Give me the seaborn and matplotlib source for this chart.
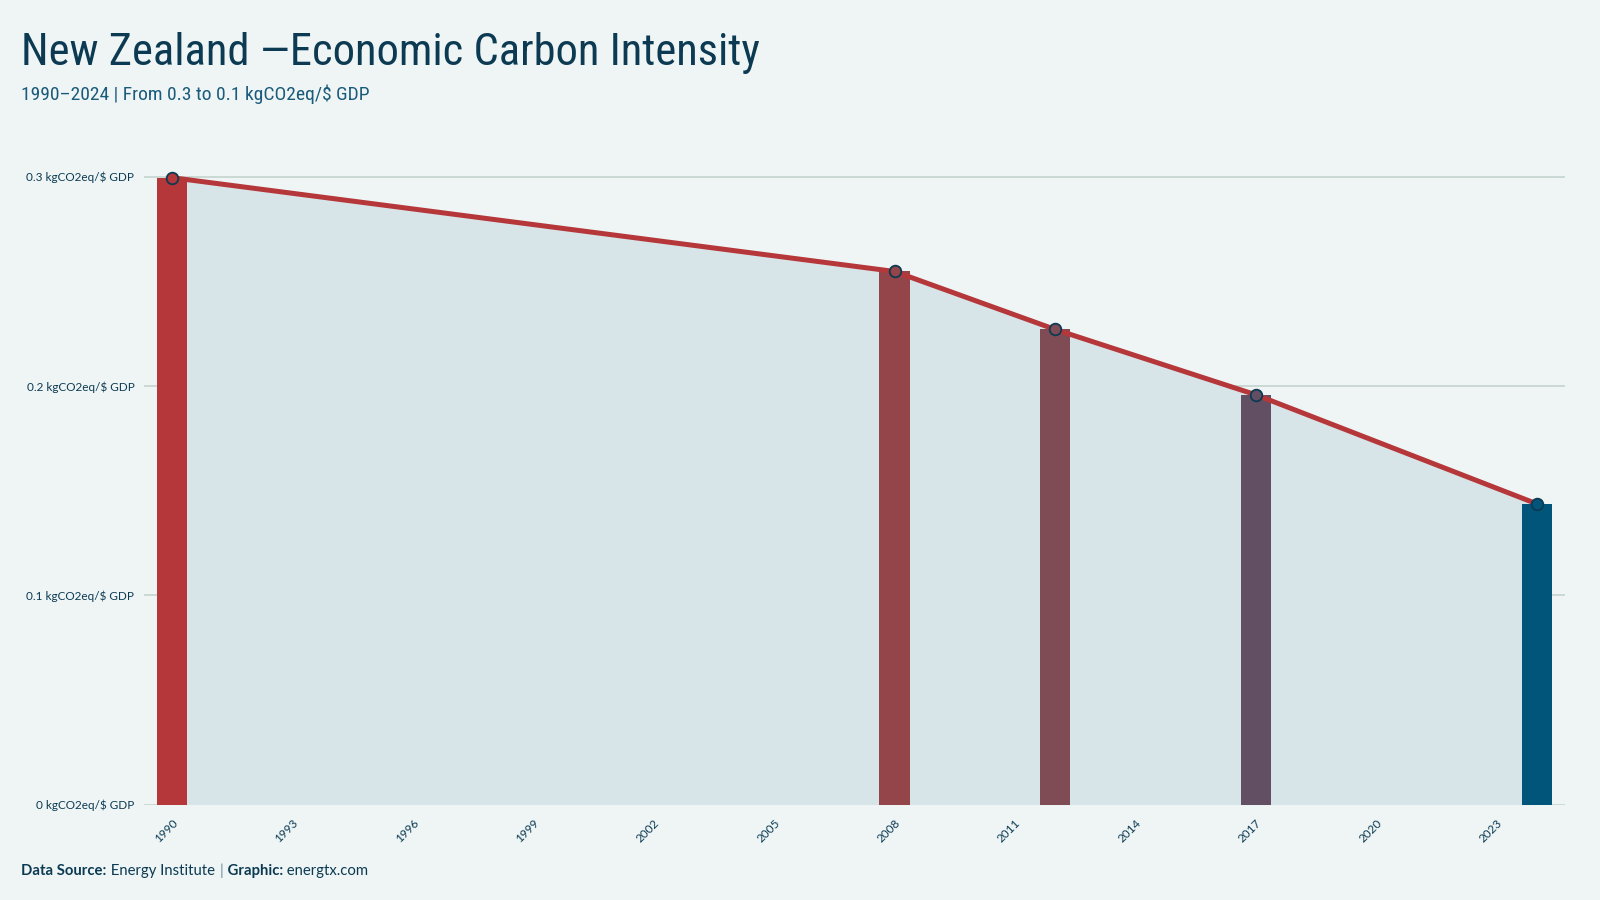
import matplotlib
matplotlib.use("Agg")
import matplotlib.pyplot as plt
from matplotlib import font_manager
import seaborn as sns
import numpy as np
import pandas as pd

years = [1990, 2008, 2012, 2017, 2024]
values = [0.2995, 0.2547, 0.2270, 0.1958, 0.1437]
bar_colors = ["#b5373a", "#93454a", "#7f4b55", "#624f63", "#02557a"]
tick_years = list(range(1990, 2024, 3))
y_ticks = [0, 0.1, 0.2, 0.3]
y_labels = ["0 kgCO2eq/\\$ GDP", "0.1 kgCO2eq/\\$ GDP", "0.2 kgCO2eq/\\$ GDP", "0.3 kgCO2eq/\\$ GDP"]
title = "New Zealand \u2014Economic Carbon Intensity"
subtitle = "1990\u20132024 | From 0.3 to 0.1 kgCO2eq/\\$ GDP"

BG = "#eff5f5"
DARK = "#0b3a52"
sns.set_theme(style="white")
plt.rcParams["font.family"] = ["Lato", "DejaVu Sans"]

names = {f.name for f in font_manager.fontManager.ttflist}
cond = [n for n in ["Roboto Condensed", "Open Sans Condensed", "Liberation Sans Narrow", "Noto Sans Condensed", "Lato"] if n in names]
title_family = [cond[0] if cond else "Lato", "DejaVu Sans"]

df = pd.DataFrame({"year": years, "value": values})

fig = plt.figure(figsize=(16, 9), dpi=100, facecolor=BG)
ax = fig.add_axes([0.090, 0.106, 0.888, 0.721])
ax.set_facecolor(BG)

for yt in y_ticks:
    ax.axhline(yt, color="#cbd9d5", lw=1.4, zorder=0)

ax.fill_between(df["year"], df["value"], 0, color="#d7e4e8", zorder=1, lw=0)

sns.barplot(data=df, x="year", y="value", hue="year", palette=bar_colors,
            native_scale=True, width=0.75 / 4, legend=False, ax=ax,
            saturation=1, zorder=2, linewidth=0, edgecolor="none")

sns.lineplot(data=df, x="year", y="value", color="#b5373a", lw=3.6, ax=ax, zorder=3)
for x, y, c in zip(years, values, bar_colors):
    ax.scatter([x], [y], s=70, color=c, edgecolor=DARK, linewidth=1.3, zorder=4)

ax.set_xlim(1989.3, 2024.7)
ax.set_ylim(0, 0.31)
ax.set_xticks(tick_years)
ax.set_xticklabels([str(t) for t in tick_years], rotation=45, ha="right",
                   rotation_mode="anchor", fontsize=8.5, color=DARK)
ax.set_yticks(y_ticks)
ax.set_yticklabels(y_labels, fontsize=8.5, color=DARK)
ax.tick_params(axis="both", length=0)
ax.tick_params(axis="x", pad=9)
ax.tick_params(axis="y", pad=7)
ax.set_xlabel("")
ax.set_ylabel("")
for s in ax.spines.values():
    s.set_visible(False)

fig.text(0.013, 0.928, title, fontsize=32, color=DARK, family=title_family)
fig.text(0.013, 0.889, subtitle, fontsize=14, color="#1a5a7a", family=title_family)

fx = 0.013
fy = 0.028
parts = [("Data Source:", "bold", DARK), (" Energy Institute ", "normal", DARK),
         ("|", "normal", "#6b8a99"), (" Graphic:", "bold", DARK), (" energtx.com", "normal", DARK)]
renderer = fig.canvas.get_renderer()
for txt, wt, col in parts:
    t = fig.text(fx, fy, txt, fontsize=10.7, fontweight=wt, color=col)
    bb = t.get_window_extent(renderer=renderer)
    fx += bb.width / fig.bbox.width + 0.0004

fig.savefig("out.png", dpi=100, facecolor=BG)
